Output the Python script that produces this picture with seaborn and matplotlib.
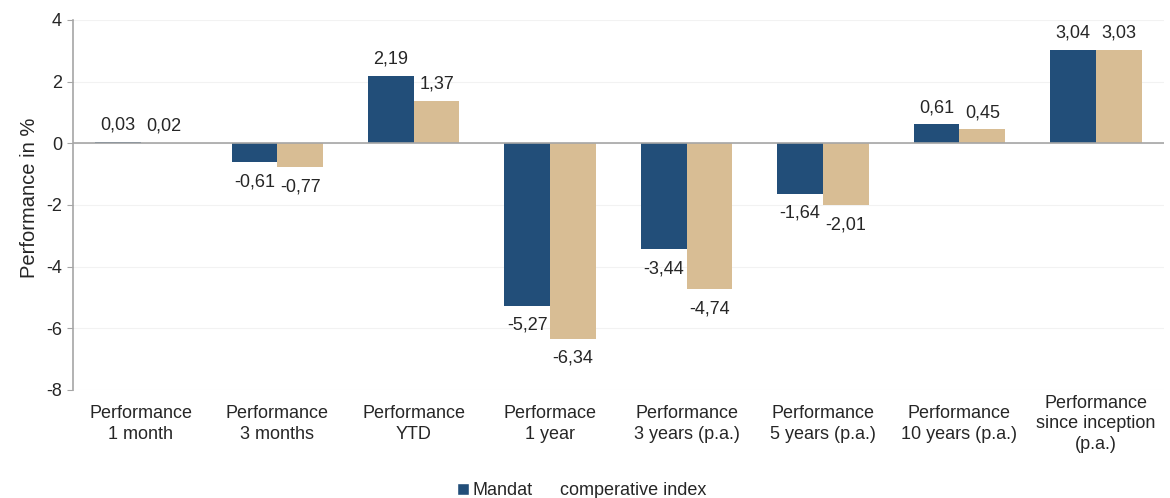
import pandas as pd
import matplotlib.pyplot as plt
import seaborn as sns
from matplotlib.patches import Patch

categories = ["Performance\n1 month", "Performance\n3 months", "Performance\nYTD",
              "Performace\n1 year", "Performance\n3 years (p.a.)", "Performance\n5 years (p.a.)",
              "Performance\n10 years (p.a.)", "Performance\nsince inception\n(p.a.)"]
mandat = [0.03, -0.61, 2.19, -5.27, -3.44, -1.64, 0.61, 3.04]
index_vals = [0.02, -0.77, 1.37, -6.34, -4.74, -2.01, 0.45, 3.03]
series = ["Mandat", "comperative index"]
colors = ["#224e79", "#d8bd94"]

df = pd.DataFrame({
    "category": categories * 2,
    "value": mandat + index_vals,
    "series": [series[0]] * len(categories) + [series[1]] * len(categories),
})

sns.set_style("white")
plt.rcParams["font.family"] = ["Liberation Sans", "DejaVu Sans"]
plt.rcParams["axes.unicode_minus"] = False

fig, ax = plt.subplots(figsize=(11.7, 4.98), dpi=100)
sns.barplot(data=df, x="category", y="value", hue="series", palette=colors,
            width=0.67, saturation=1, legend=False, linewidth=0, ax=ax)

# value labels above / below the bars
for container in ax.containers:
    for bar in container:
        v = bar.get_height()
        x = bar.get_x() + bar.get_width() / 2
        txt = f"{v:.2f}".replace(".", ",")
        if v >= 0:
            ax.annotate(txt, (x, v), xytext=(0, 6), textcoords="offset points",
                        ha="center", va="bottom", fontsize=13)
        else:
            ax.annotate(txt, (x, v), xytext=(0, -8), textcoords="offset points",
                        ha="center", va="top", fontsize=13)

ax.set_ylim(-8, 4)
ax.set_yticks(range(-8, 5, 2))
ax.set_xlim(-0.5, 7.5)
ax.yaxis.grid(True, color="#f2f2f2", linewidth=0.8)
ax.set_axisbelow(True)
ax.axhline(0, color="#a6a6a6", linewidth=1.2, zorder=1)
for s in ["top", "right", "bottom"]:
    ax.spines[s].set_visible(False)
ax.spines["left"].set_color("#a6a6a6")
ax.spines["left"].set_linewidth(1.2)
ax.tick_params(axis="y", left=True, length=4, color="#a6a6a6", labelsize=13)
ax.tick_params(axis="x", bottom=False, labelsize=13, pad=21)
for lbl in ax.get_xticklabels():
    lbl.set_va("center")
    lbl.set_linespacing(1.3)
ax.set_xlabel("")
ax.set_ylabel("Performance in %", fontsize=14.5)
ax.yaxis.set_label_coords(-0.031, 0.52)

handles = [Patch(facecolor=colors[0]), Patch(facecolor="none", edgecolor="none")]
fig.legend(handles, series, loc="lower center", ncol=2, frameon=False, fontsize=13,
           bbox_to_anchor=(0.497, -0.035), handlelength=0.7, handleheight=0.7,
           handletextpad=0.2, columnspacing=0.6)

plt.subplots_adjust(left=0.062, right=0.995, top=0.96, bottom=0.217)
plt.savefig("out.png", dpi=100)
